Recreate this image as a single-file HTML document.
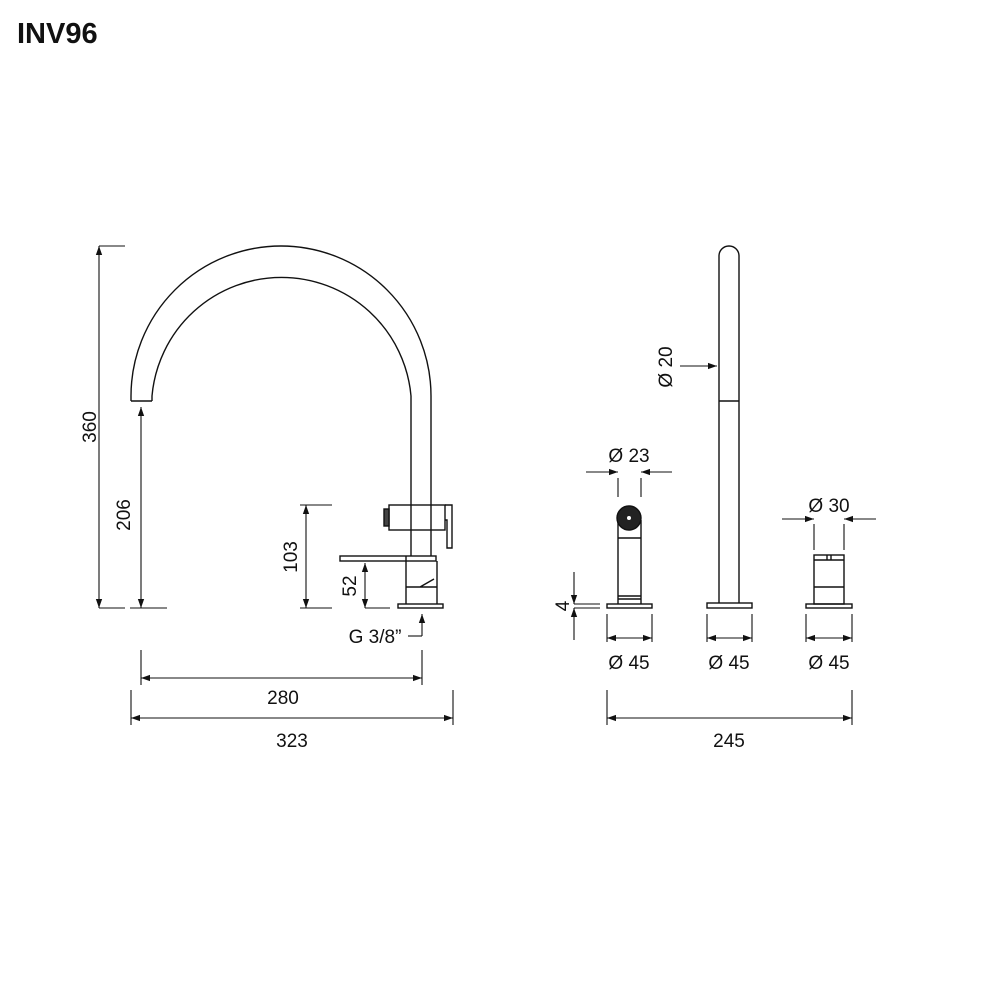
<!DOCTYPE html>
<html><head><style>body{margin:0;background:#fff}svg{display:block}text{font-family:"Liberation Sans",sans-serif;fill:#111}</style></head>
<body>
<svg width="1000" height="1000" viewBox="0 0 1000 1000" xmlns="http://www.w3.org/2000/svg">
<defs>
<marker id="a" viewBox="0 0 10 10" refX="10" refY="5" markerWidth="13" markerHeight="9" markerUnits="userSpaceOnUse" orient="auto-start-reverse"><path d="M0,1.5 L10,5 L0,8.5 z" fill="#111"/></marker>
</defs>
<text x="17" y="43" font-size="29" font-weight="bold">INV96</text>
<g stroke="#111" stroke-width="1.4" fill="none">
<path d="M131,401 L131,396 A150,150 0 0 1 431,396 L431,556"/>
<path d="M152,401 L152,396 A130,130 0 0 1 411,396 L411,556"/>
<line x1="131" y1="401" x2="152" y2="401"/>
<rect x="389" y="505" width="56" height="25" fill="#fff"/>
<line x1="411" y1="505" x2="411" y2="530"/><line x1="431" y1="505" x2="431" y2="530"/>
<rect x="384" y="509" width="5" height="17" fill="#444"/>
<path d="M445,505 L452,505 L452,548 L447,548 L447,520 L445,520"/>
<rect x="340" y="556" width="96" height="5"/>
<line x1="406" y1="556" x2="406" y2="561"/>
<path d="M406,561 L406,604 M437,561 L437,604 M406,587 L437,587 M420,587 L434,579"/>
<rect x="398" y="604" width="45" height="4"/>
<path d="M719,603 L719,256 A10,10 0 0 1 739,256 L739,603"/>
<line x1="719" y1="401" x2="739" y2="401"/>
<rect x="707" y="603" width="45" height="5"/>
<path d="M618,604 L618,520 M641,604 L641,520 M618,538 L641,538 M618,596 L641,596 M618,599 L641,599"/>
<circle cx="629" cy="518" r="12" fill="#222"/>
<circle cx="629" cy="518" r="2" fill="#fff" stroke="none"/>
<rect x="607" y="604" width="45" height="4"/>
<rect x="814" y="555" width="30" height="49"/>
<path d="M814,560 L844,560 M814,587 L844,587 M827,555 L827,560 M831,555 L831,560"/>
<rect x="806" y="604" width="46" height="4"/>
</g>
<g stroke="#111" stroke-width="1.1" fill="none">
<line x1="99" y1="246" x2="125" y2="246"/><line x1="99" y1="608" x2="125" y2="608"/>
<line x1="99" y1="246" x2="99" y2="608" marker-start="url(#a)" marker-end="url(#a)"/>
<line x1="130" y1="608" x2="167" y2="608"/>
<line x1="141" y1="407" x2="141" y2="608" marker-start="url(#a)" marker-end="url(#a)"/>
<line x1="300" y1="505" x2="332" y2="505"/><line x1="300" y1="608" x2="332" y2="608"/>
<line x1="306" y1="505" x2="306" y2="608" marker-start="url(#a)" marker-end="url(#a)"/>
<line x1="365" y1="608" x2="390" y2="608"/>
<line x1="365" y1="563" x2="365" y2="608" marker-start="url(#a)" marker-end="url(#a)"/>
<line x1="422" y1="636" x2="422" y2="614" marker-end="url(#a)"/>
<line x1="408" y1="636" x2="422" y2="636"/>
<line x1="141" y1="650" x2="141" y2="685"/><line x1="422" y1="650" x2="422" y2="685"/>
<line x1="141" y1="678" x2="422" y2="678" marker-start="url(#a)" marker-end="url(#a)"/>
<line x1="131" y1="690" x2="131" y2="725"/><line x1="453" y1="690" x2="453" y2="725"/>
<line x1="131" y1="718" x2="453" y2="718" marker-start="url(#a)" marker-end="url(#a)"/>
<line x1="680" y1="366" x2="717" y2="366" marker-end="url(#a)"/>
<line x1="618" y1="478" x2="618" y2="497"/><line x1="641" y1="478" x2="641" y2="497"/>
<line x1="586" y1="472" x2="618" y2="472" marker-end="url(#a)"/>
<line x1="672" y1="472" x2="641" y2="472" marker-end="url(#a)"/>
<line x1="574" y1="604" x2="600" y2="604"/><line x1="574" y1="608" x2="600" y2="608"/>
<line x1="574" y1="572" x2="574" y2="604" marker-end="url(#a)"/>
<line x1="574" y1="640" x2="574" y2="608" marker-end="url(#a)"/>
<line x1="814" y1="524" x2="814" y2="550"/><line x1="844" y1="524" x2="844" y2="550"/>
<line x1="782" y1="519" x2="814" y2="519" marker-end="url(#a)"/>
<line x1="876" y1="519" x2="844" y2="519" marker-end="url(#a)"/>
<line x1="607" y1="614" x2="607" y2="642"/><line x1="652" y1="614" x2="652" y2="642"/>
<line x1="607" y1="638" x2="652" y2="638" marker-start="url(#a)" marker-end="url(#a)"/>
<line x1="707" y1="614" x2="707" y2="642"/><line x1="752" y1="614" x2="752" y2="642"/>
<line x1="707" y1="638" x2="752" y2="638" marker-start="url(#a)" marker-end="url(#a)"/>
<line x1="806" y1="614" x2="806" y2="642"/><line x1="852" y1="614" x2="852" y2="642"/>
<line x1="806" y1="638" x2="852" y2="638" marker-start="url(#a)" marker-end="url(#a)"/>
<line x1="607" y1="690" x2="607" y2="725"/><line x1="852" y1="690" x2="852" y2="725"/>
<line x1="607" y1="718" x2="852" y2="718" marker-start="url(#a)" marker-end="url(#a)"/>
</g>
<g font-size="19" text-anchor="middle">
<text transform="translate(96,427) rotate(-90)">360</text>
<text transform="translate(130,515) rotate(-90)">206</text>
<text transform="translate(297,557) rotate(-90)">103</text>
<text transform="translate(356,586) rotate(-90)">52</text>
<text transform="translate(672,367) rotate(-90)">Ø 20</text>
<text transform="translate(569,606) rotate(-90)">4</text>
<text x="375" y="643">G 3/8”</text>
<text x="283" y="704">280</text>
<text x="292" y="747">323</text>
<text x="729" y="747">245</text>
<text x="629" y="462">Ø 23</text>
<text x="829" y="512">Ø 30</text>
<text x="629" y="669">Ø 45</text>
<text x="729" y="669">Ø 45</text>
<text x="829" y="669">Ø 45</text>
</g>
</svg>
</body></html>
